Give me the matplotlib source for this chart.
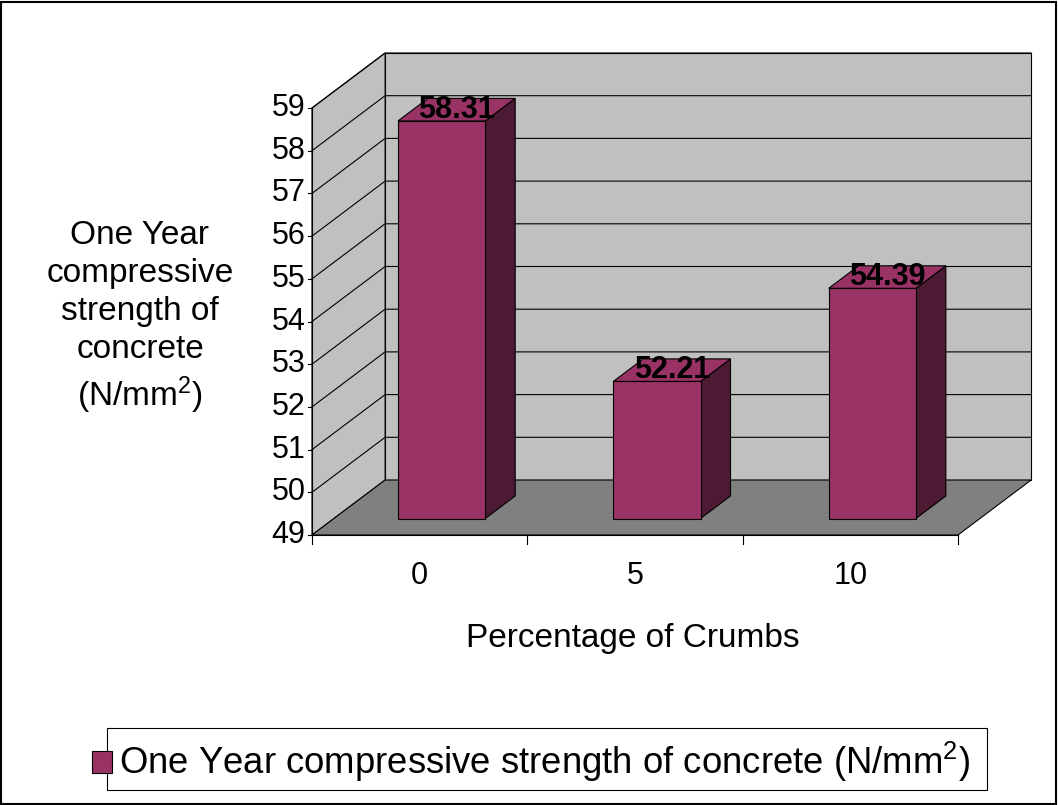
import matplotlib

matplotlib.use("Agg")
import matplotlib.pyplot as plt
from matplotlib.patches import Polygon, Rectangle

plt.rcParams["font.family"] = ["Liberation Sans", "DejaVu Sans"]
plt.rcParams["mathtext.fontset"] = "custom"
plt.rcParams["mathtext.rm"] = "Liberation Sans"
plt.rcParams["mathtext.it"] = "Liberation Sans"

categories = ["0", "5", "10"]
values = [58.31, 52.21, 54.39]
y_ticks = list(range(49, 60))
series_name = "One Year compressive strength of concrete (N/mm$^{2}$)"

c_front = "#993366"
c_side = "#4d1a33"
c_wall = "#c0c0c0"
c_floor = "#808080"

fig = plt.figure(figsize=(10.58, 8.05), dpi=100)
W, H = 1058, 805
ax = fig.add_axes([312 / W, (H - 535) / H, 646 / W, 427 / H])
ax.set_xlim(-0.5, 2.5)
ax.set_ylim(49, 59)
ax.axis("off")

DX, DY = 73 / 215, 55 / 42.7  # depth offset in data units
x0, x1, y0, y1 = -0.5, 2.5, 49, 59

def poly(pts, fc, ec="black", lw=0.8, z=1):
    ax.add_patch(Polygon(pts, closed=True, facecolor=fc, edgecolor=ec, lw=lw,
                         zorder=z, clip_on=False))

# walls and floor
poly([(x0 + DX, y0 + DY), (x1 + DX, y0 + DY), (x1 + DX, y1 + DY), (x0 + DX, y1 + DY)], c_wall)
poly([(x0, y0), (x0, y1), (x0 + DX, y1 + DY), (x0 + DX, y0 + DY)], c_wall)
poly([(x0, y0), (x1, y0), (x1 + DX, y0 + DY), (x0 + DX, y0 + DY)], c_floor)
for t in y_ticks[1:]:
    ax.plot([x0, x0 + DX, x1 + DX], [t, t + DY, t + DY], color="black", lw=0.8,
            zorder=1.5, clip_on=False)

# axis lines and ticks
ax.plot([x0, x0], [y0, y1], color="black", lw=0.8, clip_on=False, zorder=2)
ax.plot([x0, x1], [y0, y0], color="black", lw=0.8, clip_on=False, zorder=2)
for t in y_ticks:
    ax.plot([x0 - 0.02, x0], [t, t], color="black", lw=0.8, clip_on=False)
    ax.text(x0 - 0.03, t, str(t), ha="right", va="center", fontsize=22)
for i in range(len(categories) + 1):
    ax.plot([x0 + i, x0 + i], [y0, y0 - 0.2], color="black", lw=0.8, clip_on=False)
for i, c in enumerate(categories):
    ax.text(i, y0 - 0.95, c, ha="center", va="center", fontsize=22)

# bars
bw = 0.405
fa, fb = 0.30, 0.71
for i, v in enumerate(values):
    l = i - bw / 2 + fa * DX
    r = l + bw
    b = y0 + fa * DY
    top = v + fa * DY
    ddx, ddy = (fb - fa) * DX, (fb - fa) * DY
    poly([(r, b), (r + ddx, b + ddy), (r + ddx, top + ddy), (r, top)], c_side, z=3)
    poly([(l, top), (r, top), (r + ddx, top + ddy), (l + ddx, top + ddy)], c_front, z=3)
    poly([(l, b), (r, b), (r, top), (l, top)], c_front, z=3)
    ax.text((l + r) / 2 + ddx / 2, top + ddy / 2, f"{v:.2f}", ha="center", va="center",
            fontsize=22, fontweight="bold", zorder=5)

fig.text(140 / W, (H - 318) / H,
         "One Year\ncompressive\nstrength of\nconcrete\n(N/mm$^{2}$)",
         ha="center", va="center", fontsize=24, linespacing=1.3)
fig.text(633 / W, (H - 638) / H, "Percentage of Crumbs", ha="center", va="center",
         fontsize=24)

# legend
fig.patches.append(Rectangle((107 / W, (H - 790) / H), 880 / W, 62 / H, transform=fig.transFigure,
                             facecolor="white", edgecolor="black", lw=0.8))
fig.patches.append(Rectangle((92 / W, (H - 773) / H), 20 / W, 22 / H, transform=fig.transFigure,
                             facecolor=c_front, edgecolor="black", lw=0.8))
fig.text(119 / W, (H - 762) / H, series_name, ha="left", va="center", fontsize=26.3)

# outer border
fig.patches.append(Rectangle((1 / W, 1 / H), 1 - 3 / W, 1 - 3 / H, transform=fig.transFigure,
                             facecolor="none", edgecolor="black", lw=1.5))

fig.savefig("out.png", dpi=100)
